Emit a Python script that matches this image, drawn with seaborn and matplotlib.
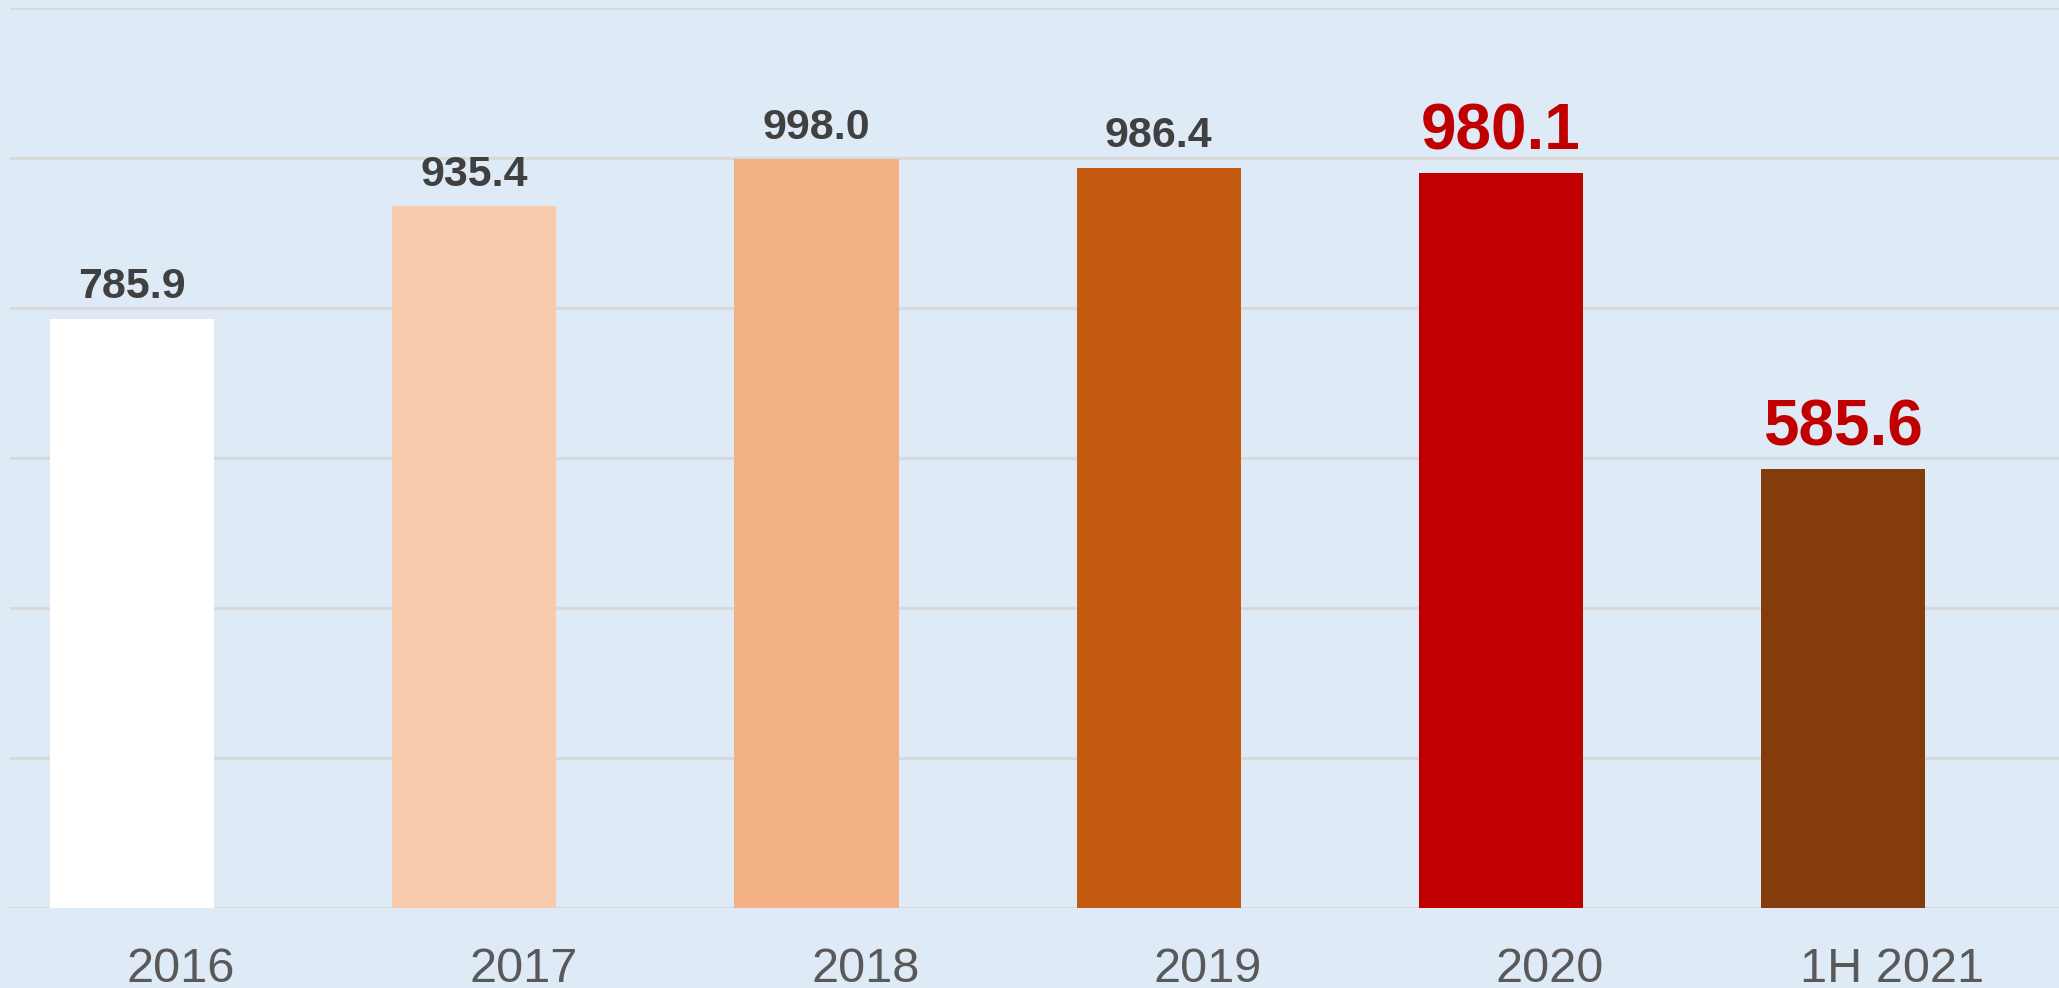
import pandas as pd
import matplotlib.pyplot as plt
import seaborn as sns

periods = ["2016", "2017", "2018", "2019", "2020", "1H 2021"]
values = [785.9, 935.4, 998.0, 986.4, 980.1, 585.6]
bar_colors = ["#FFFFFF", "#F8CBAD", "#F4B183", "#C55A11", "#C00000", "#843C0C"]
highlight = ["2020", "1H 2021"]

bg = "#DEEAF6"
sns.set_theme(style="whitegrid")
plt.rcParams["font.family"] = ["Liberation Sans", "DejaVu Sans"]

df = pd.DataFrame({"period": periods, "value": values})

fig = plt.figure(figsize=(20.59, 9.88), dpi=100, facecolor=bg)
ax = fig.add_axes([10 / 2059, 80 / 988, 1.0, 900 / 988])
ax.set_facecolor(bg)

sns.barplot(data=df, x="period", y="value", hue="period", palette=bar_colors,
            order=periods, hue_order=periods, width=0.48, legend=False,
            saturation=1, linewidth=0, ax=ax, zorder=3)

ax.set_ylim(0, 1200)
ax.set_yticks(range(0, 1201, 200))
ax.set_xlim(-0.357, 5.66)
ax.yaxis.grid(True, color="#D9D9D9", linewidth=2.2, zorder=0)
ax.xaxis.grid(False)
ax.set_yticklabels([])
ax.tick_params(axis="y", length=0)
for s in ax.spines.values():
    s.set_visible(False)

ax.set_xticks([i + 0.143 for i in range(len(periods))])
ax.set_xticklabels(periods, fontsize=35, color="#595959")
ax.tick_params(axis="x", length=0, pad=28)
ax.set_xlabel("")
ax.set_ylabel("")

for i, (p, v) in enumerate(zip(periods, values)):
    if p in highlight:
        ax.annotate(f"{v:.1f}", (i, v), xytext=(0, 17), textcoords="offset points",
                    ha="center", va="baseline", fontsize=46, fontweight="bold",
                    color="#C00000", zorder=4)
    else:
        ax.annotate(f"{v:.1f}", (i, v), xytext=(0, 15), textcoords="offset points",
                    ha="center", va="baseline", fontsize=31, fontweight="bold",
                    color="#404040", zorder=4)

fig.savefig("out.png", dpi=100, facecolor=bg)
